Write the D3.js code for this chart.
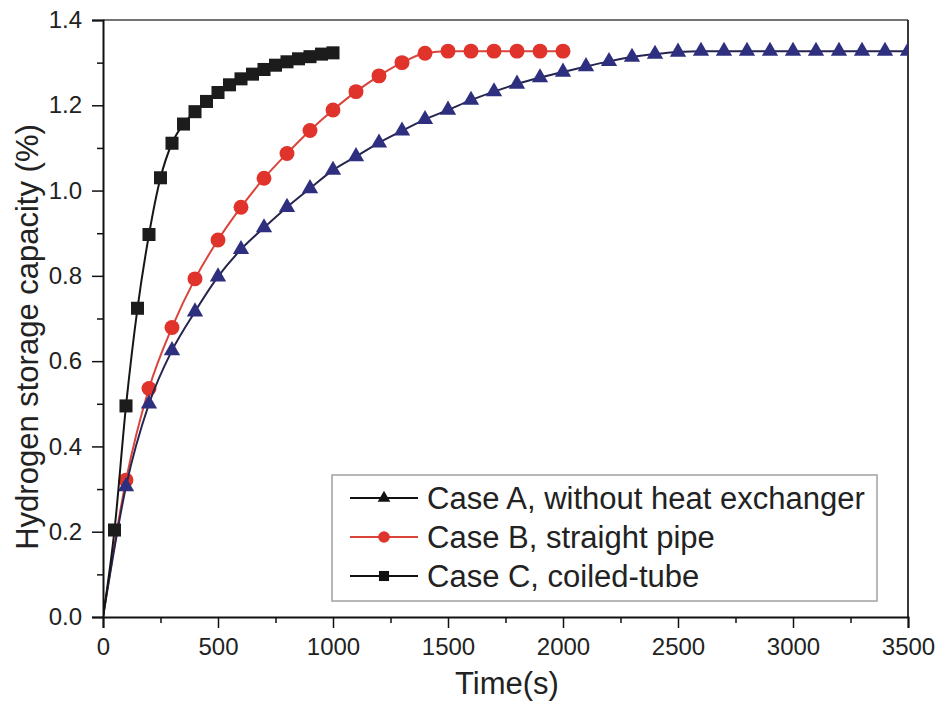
<!DOCTYPE html>
<html>
<head>
<meta charset="utf-8">
<script src="https://cdn.jsdelivr.net/npm/d3@7"></script>
<style>
  body { margin: 0; background: #fff; }
  svg { display: block; font-family: "Liberation Sans", Arial, sans-serif; }
  .axis path, .axis line { stroke: #111; }
  .axis text { fill: #222; font-size: 24px; font-family: "Liberation Sans", Arial, sans-serif; }
</style>
</head>
<body>
<svg id="chart" width="942" height="711"></svg>
<script>
"use strict";

// time axis (s) for each case
var timeA = d3.range(0, 3501, 100);
var timeB = d3.range(0, 2001, 100);
var timeC = d3.range(0, 1001, 50);

// hydrogen storage capacity (%)
var capA = [0, 0.306, 0.500, 0.625, 0.716, 0.798, 0.862, 0.913, 0.961, 1.005,
  1.048, 1.080, 1.112, 1.140, 1.167, 1.189, 1.212, 1.232, 1.250, 1.265,
  1.278, 1.291, 1.303, 1.313, 1.320, 1.325, 1.327, 1.327, 1.327, 1.327,
  1.327, 1.327, 1.327, 1.327, 1.327, 1.327];
var capB = [0, 0.321, 0.536, 0.679, 0.793, 0.884, 0.961, 1.029, 1.087, 1.141,
  1.189, 1.232, 1.269, 1.300, 1.322, 1.327, 1.327, 1.327, 1.327, 1.327, 1.327];
var capC = [0, 0.204, 0.495, 0.724, 0.897, 1.030, 1.111, 1.156, 1.185, 1.209,
  1.230, 1.248, 1.262, 1.273, 1.284, 1.294, 1.302, 1.309, 1.314, 1.320, 1.323];

var legendLabels = ["Case A, without heat exchanger", "Case B, straight pipe", "Case C, coiled-tube"];
var xTicks = [0, 500, 1000, 1500, 2000, 2500, 3000, 3500];
var xMinor = [250, 750, 1250, 1750, 2250, 2750, 3250];
var yTicks = [0, 0.2, 0.4, 0.6, 0.8, 1.0, 1.2, 1.4];
var yMinor = [0.1, 0.3, 0.5, 0.7, 0.9, 1.1, 1.3];

var margin = {top: 20, right: 34, bottom: 94, left: 103};
var width = 942 - margin.left - margin.right;
var height = 711 - margin.top - margin.bottom;

var svg = d3.select("#chart");
var graph = svg.append("g").attr("transform", "translate(" + margin.left + "," + margin.top + ")");

var x = d3.scaleLinear().domain([0, 3500]).range([0, width]);
var y = d3.scaleLinear().domain([0, 1.4]).range([height, 0]);

var series = [
  {name: legendLabels[1], t: timeB, v: capB, color: "#d9443b", fill: "#e0332b", legendColor: "#d9443b", symbol: d3.symbolCircle, size: 175},
  {name: legendLabels[0], t: timeA, v: capA, color: "#25254f", fill: "#2f2f7f", legendColor: "#111", symbol: d3.symbolTriangle, size: 115},
  {name: legendLabels[2], t: timeC, v: capC, color: "#161616", fill: "#1c1c1c", legendColor: "#111", symbol: d3.symbolSquare, size: 170}
];

graph.append("clipPath").attr("id", "plot-clip")
  .append("rect").attr("x", 0).attr("y", -10).attr("width", width).attr("height", height + 10);

// frame on top and right
graph.append("line").attr("x1", 0).attr("x2", width).attr("y1", 0).attr("y2", 0)
  .attr("stroke", "#444").attr("stroke-width", 1.5);
graph.append("line").attr("x1", width).attr("x2", width).attr("y1", 0).attr("y2", height)
  .attr("stroke", "#222").attr("stroke-width", 1.8);

var line = d3.line()
  .x(function(d) { return x(d[0]); })
  .y(function(d) { return y(d[1]); })
  .curve(d3.curveMonotoneX);

var plot = graph.append("g").attr("clip-path", "url(#plot-clip)");

series.forEach(function(s) {
  var pts = s.t.map(function(t, i) { return [t, s.v[i]]; });
  plot.append("path")
    .datum(pts)
    .attr("fill", "none")
    .attr("stroke", s.color)
    .attr("stroke-width", 2)
    .attr("d", line);
  plot.selectAll(null)
    .data(pts.slice(1))
    .enter().append("path")
      .attr("transform", function(d) { return "translate(" + x(d[0]) + "," + y(d[1]) + ")"; })
      .attr("d", d3.symbol().type(s.symbol).size(s.size))
      .attr("fill", s.fill);
});

// axes
graph.append("g")
  .attr("class", "x axis")
  .attr("transform", "translate(0," + height + ")")
  .call(d3.axisBottom(x).tickValues(xTicks).tickSize(11).tickPadding(10).tickFormat(d3.format("d")))
  .call(function(g) { g.select(".domain").attr("stroke-width", 2); g.selectAll(".tick line").attr("stroke-width", 1.5); });

graph.append("g")
  .attr("class", "x axis minor")
  .attr("transform", "translate(0," + height + ")")
  .call(d3.axisBottom(x).tickValues(xMinor).tickSize(6).tickFormat(""))
  .call(function(g) { g.select(".domain").remove(); g.selectAll(".tick line").attr("stroke-width", 1.5); });

graph.append("g")
  .attr("class", "y axis")
  .call(d3.axisLeft(y).tickValues(yTicks).tickSize(11).tickPadding(10).tickFormat(d3.format(".1f")))
  .call(function(g) { g.select(".domain").attr("stroke-width", 2); g.selectAll(".tick line").attr("stroke-width", 1.5); });

graph.append("g")
  .attr("class", "y axis minor")
  .call(d3.axisLeft(y).tickValues(yMinor).tickSize(6).tickFormat(""))
  .call(function(g) { g.select(".domain").remove(); g.selectAll(".tick line").attr("stroke-width", 1.5); });

// axis titles
svg.append("text")
  .attr("x", 507)
  .attr("y", 694)
  .attr("text-anchor", "middle")
  .attr("fill", "#222")
  .style("font-size", "31px")
  .text("Time(s)");

svg.append("text")
  .attr("transform", "translate(38,337) rotate(-90)")
  .attr("text-anchor", "middle")
  .attr("fill", "#222")
  .style("font-size", "31px")
  .text("Hydrogen storage capacity (%)");

// legend
var legend = svg.append("g");
legend.append("rect")
  .attr("x", 332).attr("y", 475).attr("width", 545).attr("height", 126)
  .attr("fill", "#fff").attr("stroke", "#a0a0a0").attr("stroke-width", 1.5);

var legendOrder = [series[1], series[0], series[2]];
legendOrder.forEach(function(s, i) {
  var cy = 498 + i * 39;
  legend.append("line")
    .attr("x1", 350).attr("x2", 418).attr("y1", cy).attr("y2", cy)
    .attr("stroke", s.legendColor).attr("stroke-width", 2);
  legend.append("path")
    .attr("transform", "translate(384," + cy + ")")
    .attr("d", d3.symbol().type(s.symbol).size(s.size * 0.6))
    .attr("fill", s.legendColor === "#111" ? "#111" : s.fill);
  legend.append("text")
    .attr("x", 427).attr("y", cy)
    .attr("dy", "0.35em")
    .attr("fill", "#222")
    .style("font-size", "31px")
    .text(s.name);
});
</script>
</body>
</html>
